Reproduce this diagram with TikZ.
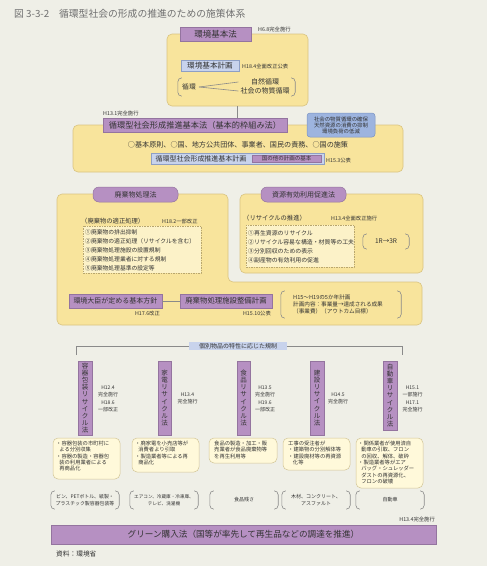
\documentclass[tikz,border=0pt]{standalone}
\usepackage{fontspec}
\setmainfont{Noto Sans CJK JP}
\definecolor{bg}{HTML}{EFEFE7}
\definecolor{yel}{HTML}{F8E49C}
\definecolor{yelb}{HTML}{D9C381}
\definecolor{pur}{HTML}{B690C2}
\definecolor{purb}{HTML}{94749F}
\definecolor{lblue}{HTML}{C8D3EC}
\definecolor{lblueb}{HTML}{8E9FC4}
\definecolor{blu}{HTML}{9DB4DF}
\definecolor{blub}{HTML}{7A92C2}
\definecolor{cream}{HTML}{FFF9DA}
\definecolor{creamb}{HTML}{D2C596}
\definecolor{dashf}{HTML}{FCF2C8}
\definecolor{txt}{HTML}{333333}
\definecolor{gry}{HTML}{8A8A8A}
\definecolor{ttl}{HTML}{707070}
\newcommand\fs[2]{\fontsize{#1}{#2}\selectfont}
\newcommand\bx[7]{\node[#2,minimum width={#5-#3},minimum height={#6-#4},inner sep=0pt] (#1) at ({(#3+#5)/2},{(#4+#6)/2}) {#7};}
\newcommand\brk[5]{\node[minimum width={#4-#2},minimum height={#5-#3},inner sep=0pt] (#1) at ({(#2+#4)/2},{(#3+#5)/2}) {};
\draw[brkline] ([xshift=4pt]#1.north west) -- (#1.north west) -- (#1.south west) -- ([xshift=4pt]#1.south west);
\draw[brkline] ([xshift=-4pt]#1.north east) -- (#1.north east) -- (#1.south east) -- ([xshift=-4pt]#1.south east);}
\tikzset{
  ybox/.style={fill=yel,draw=yelb,line width=0.6pt,rounded corners=5pt},
  pbox/.style={fill=pur,draw=purb,line width=0.5pt},
  ptab/.style={pbox,rounded corners=6pt},
  lbbox/.style={fill=lblue,draw=lblueb,line width=0.5pt},
  bbox/.style={fill=blu,draw=blub,line width=0.5pt,rounded corners=3pt},
  dbox/.style={fill=dashf,draw=yelb!85!black,dashed,dash pattern=on 1.5pt off 1pt,line width=0.5pt},
  cbox/.style={fill=cream,draw=creamb,line width=0.5pt,rounded corners=5pt},
  brkline/.style={draw=gry,line width=0.6pt,rounded corners=4pt},
  conn/.style={draw=gry,line width=0.6pt},
  ann/.style={font=\fs{5.3}{6}},
  vlaw/.style={pbox,align=center,font=\fs{6.5}{7.1}},
  dates/.style={align=center,font=\fs{5}{7.4}},
  desc/.style={align=left,font=\fs{5.3}{6.3},anchor=north west},
}
\begin{document}
\begin{tikzpicture}[x=1pt,y=-1pt,every node/.style={text=txt,inner sep=0pt}]
\fill[bg] (0,0) rectangle (487,566);
\useasboundingbox (0,0) rectangle (487,566);
% title
\node[anchor=west,text=ttl,font=\fs{9.8}{11}] (title) at (14,14) {図 3-3-2　循環型社会の形成の推進のための施策体系};
% --- environment basic law
\bx{kbox}{ybox}{167}{34}{308}{106}{}
\bx{kho}{pbox}{180}{27}{251}{41}{\fs{8.5}{9}環境基本法}
\node[ann,anchor=west] (kho-d) at (258,29) {H6.8完全施行};
\bx{kkei}{lbbox}{181}{60}{239}{71}{\fs{7.6}{8}環境基本計画}
\node[ann,anchor=west] (kkei-d) at (242,66) {H18.4全面改正公表};
\brk{jbr}{178}{78}{295}{96}
\node[anchor=west,font=\fs{6.8}{7}] (jun) at (182,87) {循環};
\node[font=\fs{7}{7}] (shizen) at (265,82) {自然循環};
\node[font=\fs{7}{7}] (shakai) at (265,91) {社会の物質循環};
\draw[conn] ([xshift=3pt]jun.east) -- ([xshift=-2pt]shizen.west -| shakai.west);
\draw[conn] ([xshift=3pt]jun.east) -- ([xshift=-2pt]shakai.west);
% --- basic law for sound material-cycle society
\bx{jbox}{ybox}{73}{125}{403}{172}{}
\bx{junho}{pbox}{103}{118}{287}{132}{\fs{8.2}{9}循環型社会形成推進基本法（基本的枠組み法）}
\draw[conn] (kbox.south) -- (kbox.south |- junho.north);
\node[ann,anchor=west] (junho-d) at (103,113) {H13.1完全施行};
\bx{goal}{bbox}{307}{113}{375}{137}{\parbox{66pt}{\centering\fs{5.4}{6}社会の物質循環の確保\\天然資源の消費の抑制\\環境負荷の低減}}
\node[font=\fs{7.1}{8}] (gensoku) at (238,145) {○基本原則、○国、地方公共団体、事業者、国民の責務、○国の施策};
\bx{jkei}{lbbox}{151}{153}{324}{164}{}
\node[font=\fs{7}{8}] (jkei-t) at (201,158.5) {循環型社会形成推進基本計画};
\bx{tano}{pbox}{252}{155}{321}{162}{\fs{5.5}{6}国の他の計画の基本}
\node[ann,anchor=west] (jkei-d) at (326,160) {H15.3公表};
% --- waste management / resource
\path[ybox] (57,194) -- (228,194) -- (228,282) -- (422,282) -- (422,325) -- (57,325) -- cycle;
\bx{sbox}{ybox}{240}{194}{423}{273}{}
\bx{haiki}{ptab}{93}{187}{178}{202}{\fs{7}{8}廃棄物処理法}
\bx{shigen}{ptab}{261}{187}{346}{202}{\fs{7}{8}資源有効利用促進法}
\node[anchor=west,font=\fs{6.3}{7}] (tekisei) at (81,221) {（廃棄物の適正処理）};
\node[ann,anchor=west] (haiki-d) at (162,221) {H18.2一部改正};
\bx{hlist}{dbox}{83}{226}{201}{273}{}
\node[anchor=west,align=left,font=\fs{5.8}{9}] (hlist-t) at (85,250) {①廃棄物の排出抑制\\②廃棄物の適正処理（リサイクルを含む）\\③廃棄物処理施設の設置規制\\④廃棄物処理業者に対する規制\\⑤廃棄物処理基準の設定等};
\node[anchor=west,font=\fs{6.3}{7}] (suishin) at (243,218) {（リサイクルの推進）};
\node[ann,anchor=west] (shigen-d) at (331,218) {H13.4全面改正施行};
\bx{slist}{dbox}{246}{225}{354}{267}{}
\node[anchor=west,align=left,font=\fs{5.9}{9}] (slist-t) at (248,246.5) {①再生資源のリサイクル\\②リサイクル容易な構造・材質等の工夫\\③分別回収のための表示\\④副産物の有効利用の促進};
\brk{rbr}{363}{234}{409}{249}
\node[font=\fs{6.5}{7}] (r3) at (386,241.5) {1R→3R};
\bx{hoshin}{pbox}{69}{294}{162}{308}{\fs{7}{8}環境大臣が定める基本方針}
\bx{seibi}{pbox}{180}{294}{272}{308}{\fs{7.4}{8}廃棄物処理施設整備計画}
\draw[conn] (hoshin.east) -- (seibi.west);
\node[ann,anchor=east] (hoshin-d) at (160,313) {H17.6改正};
\node[ann,anchor=east] (seibi-d) at (271,313) {H15.10公表};
\brk{pbr}{281}{291}{401}{318}
\node[anchor=west,align=left,font=\fs{5.6}{7}] (plan) at (293,304) {H15～H19の5か年計画\\計画内容：事業量→達成される成果\\（事業費）（アウトカム目標）};
% --- individual recycling laws
\draw[conn] (76,355) -- (76,346) -- (402,346) -- (402,355);
\bx{kobetsu}{lbbox,draw=none}{189}{342}{287}{350}{\fs{6}{6}個別物品の特性に応じた規制}
\bx{L1}{vlaw}{78}{361}{92}{435}{容\\器\\包\\装\\リ\\サ\\イ\\ク\\ル\\法}
\bx{L2}{vlaw}{158}{361}{171}{435}{家\\電\\リ\\サ\\イ\\ク\\ル\\法}
\bx{L3}{vlaw}{237}{361}{250}{435}{食\\品\\リ\\サ\\イ\\ク\\ル\\法}
\bx{L4}{vlaw}{310}{361}{324}{435}{建\\設\\リ\\サ\\イ\\ク\\ル\\法}
\bx{L5}{vlaw}{383}{361}{397}{430}{自\\動\\車\\リ\\サ\\イ\\ク\\ル\\法}
\node[dates] (D1) at (108,399) {H12.4\\完全施行\\H18.6\\一部改正};
\node[dates] (D2) at (187.5,398.5) {H13.4\\完全施行};
\node[dates] (D3) at (265,399) {H13.5\\完全施行\\H19.6\\一部改正};
\node[dates] (D4) at (338,398.5) {H14.5\\完全施行};
\node[dates] (D5) at (412.5,399) {H15.1\\一部施行\\H17.1\\完全施行};
\bx{B1}{cbox}{53}{438}{120}{479}{}
\bx{B2}{cbox}{132}{438}{199}{472}{}
\bx{B3}{cbox}{209}{438}{277}{463}{}
\bx{B4}{cbox}{283}{438}{350}{470}{}
\bx{B5}{cbox}{356}{438}{423}{488}{}
\node[desc] (B1t) at (56,441) {・容器包装の市町村に\\\hspace*{0.6em}よる分別収集\\・容器の製造・容器包\\\hspace*{0.6em}装の利用業者による\\\hspace*{0.6em}再商品化};
\node[desc] (B2t) at (135,441) {・廃家電を小売店等が\\\hspace*{0.6em}消費者より引取\\・製造業者等による再\\\hspace*{0.6em}商品化};
\node[desc] (B3t) at (214,441) {食品の製造・加工・販\\売業者が食品廃棄物等\\を再生利用等};
\node[desc] (B4t) at (288,441) {工事の受注者が\\・建築物の分別解体等\\・建設廃材等の再資源\\\hspace*{0.9em}化等};
\node[desc] (B5t) at (358,441) {・関係業者が使用済自\\\hspace*{0.6em}動車の引取、フロン\\\hspace*{0.6em}の回収、解体、破砕\\・製造業者等がエア\\\hspace*{0.6em}バッグ・シュレッダー\\\hspace*{0.6em}ダストの再資源化、\\\hspace*{0.6em}フロンの破壊};
\brk{K1}{51}{491}{119}{509}
\brk{K2}{130}{491}{198}{509}
\brk{K3}{210}{491}{278}{509}
\brk{K4}{282}{491}{350}{509}
\brk{K5}{356}{491}{424}{509}
\node[align=center,font=\fs{4.9}{6.5}] (K1t) at (K1) {ビン、PETボトル、紙製・\\プラスチック製容器包装等};
\node[align=center,font=\fs{4.6}{6.5}] (K2t) at (K2) {エアコン、冷蔵庫・冷凍庫、\\テレビ、洗濯機};
\node[font=\fs{5}{6}] (K3t) at (K3) {食品残さ};
\node[align=center,font=\fs{5}{6.5}] (K4t) at (K4) {木材、コンクリート、\\アスファルト};
\node[font=\fs{5}{6}] (K5t) at (K5) {自動車};
% --- green purchasing
\node[ann,anchor=east] (green-d) at (435,519) {H13.4完全施行};
\bx{green}{pbox,line width=0.9pt}{51}{525}{436}{544}{\fs{8.6}{9}グリーン購入法（国等が率先して再生品などの調達を推進）}
\node[anchor=west,font=\fs{6.7}{7}] (source) at (56,554) {資料：環境省};
\end{tikzpicture}
\end{document}
